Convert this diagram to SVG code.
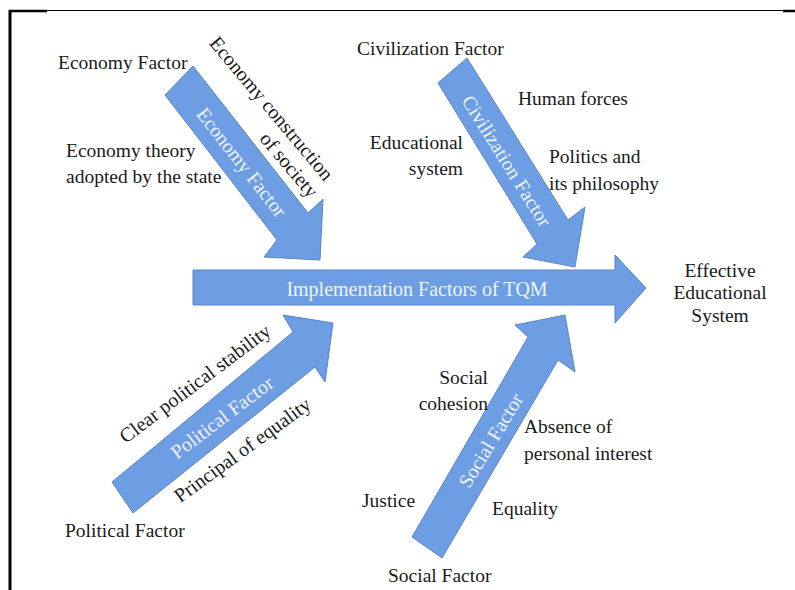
<svg xmlns="http://www.w3.org/2000/svg" width="795" height="590" viewBox="0 0 795 590">
<style>
.t{font-family:"Liberation Serif","Times New Roman",serif;font-size:19.5px;fill:#1a1a1a}
.w{font-family:"Liberation Serif","Times New Roman",serif;font-size:20px;fill:#eef3ff}
.r{font-family:"Liberation Serif","Times New Roman",serif;font-size:20px;fill:#1a1a1a}
.a{fill:#6d9de3;stroke:#5a86c6;stroke-width:1}
</style>
<rect width="795" height="590" fill="#ffffff"/>
<g id="frame">
<line x1="10" y1="10" x2="10" y2="590" stroke="#000" stroke-width="3"/>
<line x1="9" y1="11" x2="47" y2="11" stroke="#000" stroke-width="2.5"/>
<line x1="47" y1="10.5" x2="783" y2="10.5" stroke="#000" stroke-width="1"/>
<line x1="783" y1="11" x2="795" y2="11" stroke="#000" stroke-width="2.5"/>
</g>
<g id="connectors">
<polygon class="a" points="193,270 615,270 615,255 646,288 615,323 615,305 193,305"/>
<polygon class="a" points="193,66 308,213 323,199 320,260 264,257 277,240 165,95"/>
<polygon class="a" points="467,58 568,220 585,207 575,267 523,257 537,244 438,83"/>
<polygon class="a" points="112,482 293,332 283,315 333,323 325,382 315,367 133,513"/>
<polygon class="a" points="412,537 528,337 515,325 565,315 575,372 558,360 442,558"/>
</g>
<g id="spine">
<text class="w" x="417" y="296" text-anchor="middle">Implementation Factors of TQM</text>
</g>
<g id="effect">
<text class="t" x="720" y="277" text-anchor="middle">Effective</text>
<text class="t" x="720" y="299" text-anchor="middle">Educational</text>
<text class="t" x="720" y="322" text-anchor="middle">System</text>
</g>
<g id="economy">
<text class="t" x="58" y="69">Economy Factor</text>
<text class="t" x="66" y="157">Economy theory</text>
<text class="t" x="66" y="183">adopted by the state</text>
<text class="r" transform="translate(271.5,108.5) rotate(50)" text-anchor="middle" dy="0.33em">Economy construction</text>
<text class="r" transform="translate(289,165) rotate(50)" text-anchor="middle" dy="0.33em">of society</text>
<text class="w" transform="translate(241.5,162.5) rotate(52)" text-anchor="middle" dy="0.33em">Economy Factor</text>
</g>
<g id="civilization">
<text class="t" x="357" y="55">Civilization Factor</text>
<text class="t" x="518" y="105">Human forces</text>
<text class="t" x="463" y="149" text-anchor="end">Educational</text>
<text class="t" x="463" y="175" text-anchor="end">system</text>
<text class="t" x="549" y="163">Politics and</text>
<text class="t" x="549" y="190">its philosophy</text>
<text class="w" transform="translate(506.5,161) rotate(58)" text-anchor="middle" dy="0.33em">Civilization Factor</text>
</g>
<g id="political">
<text class="t" x="65" y="537">Political Factor</text>
<text class="r" transform="translate(195,383.5) rotate(-37)" text-anchor="middle" dy="0.33em">Clear political stability</text>
<text class="w" transform="translate(222,417.5) rotate(-37)" text-anchor="middle" dy="0.33em">Political Factor</text>
<text class="r" transform="translate(242.5,450) rotate(-36)" text-anchor="middle" dy="0.33em">Principal of equality</text>
</g>
<g id="social">
<text class="t" x="388" y="582">Social Factor</text>
<text class="t" x="362" y="507">Justice</text>
<text class="t" x="488" y="384" text-anchor="end">Social</text>
<text class="t" x="488" y="410" text-anchor="end">cohesion</text>
<text class="t" x="524" y="433">Absence of</text>
<text class="t" x="524" y="460">personal interest</text>
<text class="t" x="492" y="515">Equality</text>
<text class="w" transform="translate(491,440.5) rotate(-59)" text-anchor="middle" dy="0.33em">Social Factor</text>
</g>
</svg>
